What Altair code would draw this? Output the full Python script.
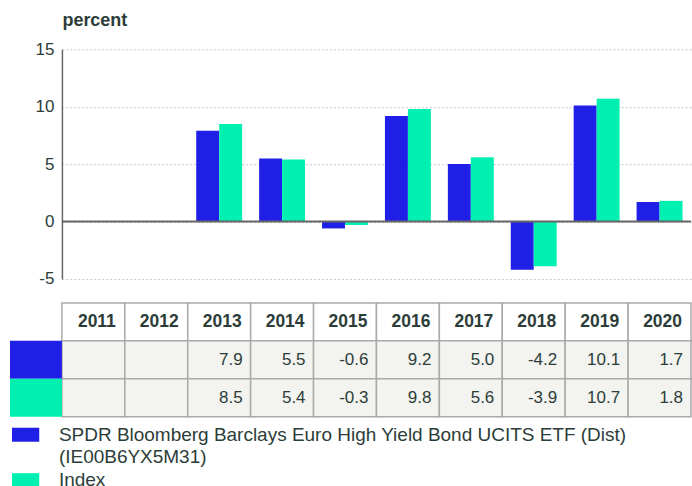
import altair as alt
import pandas as pd

years = ["2011", "2012", "2013", "2014", "2015", "2016", "2017", "2018", "2019", "2020"]
etf_values = [None, None, 7.9, 5.5, -0.6, 9.2, 5.0, -4.2, 10.1, 1.7]
index_values = [None, None, 8.5, 5.4, -0.3, 9.8, 5.6, -3.9, 10.7, 1.8]
series_names = ["SPDR Bloomberg Barclays Euro High Yield Bond UCITS ETF (Dist) (IE00B6YX5M31)", "Index"]
legend_labels = ["SPDR Bloomberg Barclays Euro High Yield Bond UCITS ETF (Dist)\n(IE00B6YX5M31)", "Index"]
series_colors = ["#1f1fe8", "#00f0b2"]
y_ticks = [-5, 0, 5, 10, 15]

TXT = "#2c3d39"
FONT = "Liberation Sans"

rows = []
for s, vals in zip(series_names, [etf_values, index_values]):
    for y, v in zip(years, vals):
        rows.append({"year": y, "series": s, "value": v})
bars_df = pd.DataFrame(rows)

color_scale = alt.Scale(domain=series_names, range=series_colors)

bars = alt.Chart(bars_df).mark_bar().encode(
    x=alt.X("year:N", sort=years, axis=None,
            scale=alt.Scale(paddingInner=0.27, paddingOuter=0.135)),
    xOffset=alt.XOffset("series:N", sort=series_names),
    y=alt.Y("value:Q", scale=alt.Scale(domain=[-5, 15], nice=False),
            axis=alt.Axis(values=y_ticks, title="percent", titleAngle=0, titleAlign="left",
                          titleX=0, titleY=-24, titleBaseline="alphabetic",
                          titleFontSize=18, titleFontWeight="bold", titleColor=TXT, titleFont=FONT,
                          labelFontSize=17, labelColor=TXT, labelFont=FONT, labelPadding=8,
                          labelExpr="datum.value",
                          ticks=False, domainColor="#666666", domainWidth=1.5,
                          gridColor="#c8c8c8", gridDash=[2, 2], gridWidth=1)),
    color=alt.Color("series:N", scale=color_scale, legend=None),
)

zero = alt.Chart(pd.DataFrame({"z": [0]})).mark_rule(color="#666666", strokeWidth=2).encode(
    y=alt.Y("z:Q")
)

bar_chart = alt.layer(bars, zero).properties(width=630, height=230)

# table
row_keys = ["header"] + series_names
cells = []
for y in years:
    cells.append({"year": y, "row": "header", "label": y})
for s, vals in zip(series_names, [etf_values, index_values]):
    for y, v in zip(years, vals):
        cells.append({"year": y, "row": s, "label": "" if v is None else f"{v:.1f}"})
cells_df = pd.DataFrame(cells)

tscale = alt.Scale(paddingInner=0, paddingOuter=0)
tx = alt.X("year:N", sort=years, axis=None, scale=tscale)
txr = alt.X("year:N", sort=years, axis=None, bandPosition=1, scale=tscale)
ty = alt.Y("row:N", sort=row_keys, axis=None, scale=tscale)

cell_rects = alt.Chart(cells_df).mark_rect(stroke="#aaaaaa", strokeWidth=1.5).encode(
    x=tx, y=ty,
    color=alt.Color("row:N", scale=alt.Scale(domain=row_keys, range=["#ffffff", "#f3f3ef", "#f3f3ef"]),
                    legend=None),
)
header_text = alt.Chart(cells_df).transform_filter(alt.datum.row == "header").mark_text(
    align="right", baseline="middle", dx=-9, fontSize=17.5, fontWeight="bold", color=TXT, font=FONT
).encode(x=txr, y=ty, text="label:N")
value_text = alt.Chart(cells_df).transform_filter(alt.datum.row != "header").mark_text(
    align="right", baseline="middle", dx=-8, fontSize=17, color=TXT, font=FONT
).encode(x=txr, y=ty, text="label:N")

sw_df = pd.DataFrame({"row": series_names})
swatches = alt.Chart(sw_df).mark_rect().encode(
    x=alt.value(-52), x2=alt.value(0), y=ty,
    color=alt.Color("row:N", scale=alt.Scale(domain=series_names, range=series_colors), legend=None),
)

table = alt.layer(cell_rects, header_text, value_text, swatches).resolve_scale(
    color="independent").properties(width=630, height=114)

# legend
leg_df = pd.DataFrame({"series": series_names, "label": legend_labels})
ly = alt.Y("series:N", sort=series_names, axis=None,
           scale=alt.Scale(type="point", range=[-6, 39.5], padding=0))
leg_sw = alt.Chart(leg_df).mark_rect(height=14).encode(
    x=alt.value(-50), x2=alt.value(-22.7), y=ly,
    color=alt.Color("series:N", scale=color_scale, legend=None),
)
leg_txt = alt.Chart(leg_df).mark_text(
    align="left", baseline="top", dy=-9, fontSize=19, lineHeight=22.7, lineBreak="\n",
    color=TXT, font=FONT
).encode(x=alt.value(-3), y=ly, text="label:N")
legend = alt.layer(leg_sw, leg_txt).properties(width=630, height=36)

chart = alt.vconcat(bar_chart, table, legend, spacing=24, bounds="flush").properties(
    padding={"left": 10, "top": 11, "right": 0, "bottom": 0},
    background="white",
).configure_view(stroke=None)

chart.save("out.html", embed_options={"renderer": "svg", "actions": False})
